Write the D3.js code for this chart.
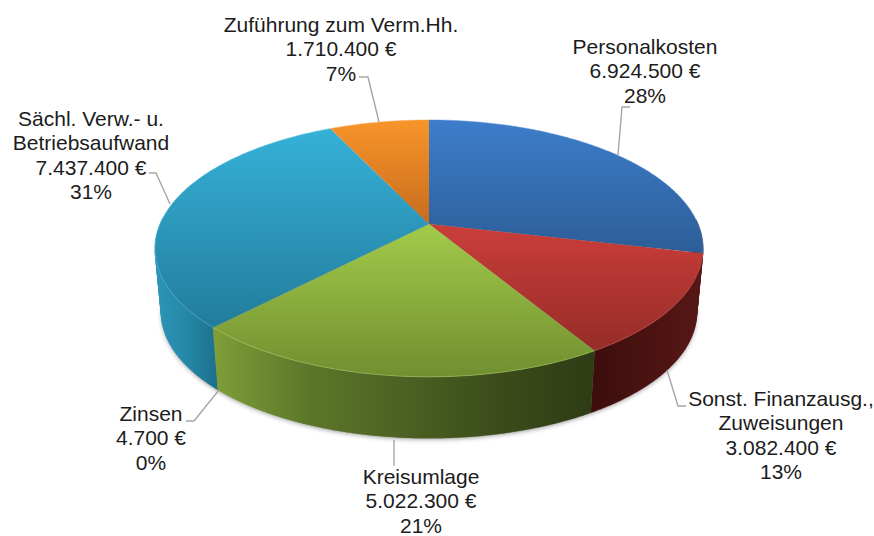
<!DOCTYPE html>
<html><head><meta charset="utf-8">
<script src="https://cdn.jsdelivr.net/npm/d3@7"></script>
<style>html,body{margin:0;padding:0;background:#fff}svg{display:block}</style>
</head><body><svg id="c" width="874" height="536"></svg>
<script>
// ---- data ----
const categories = [["Personalkosten"],["Sonst. Finanzausg.,","Zuweisungen"],["Kreisumlage"],["Zinsen"],["Sächl. Verw.- u.","Betriebsaufwand"],["Zuführung zum Verm.Hh."]];
const euroValues = [6924500,3082400,5022300,4700,7437400,1710400];
const percentLabels = [28,13,21,0,31,7];
// ---- styles ----
const topLight  = ["#3d7dca","#cb3e3a","#a2cb4a","#9fc74a","#36b1d8","#f9942a"];
const topDark   = ["#2c5d97","#962c28","#718f30","#718f30","#227c9b","#c66c1c"];
const sideStops = [
 ["#3c0e0c","#4a1210"],
 ["#3c0e0c","#4a1210","#571816"],
 ["#7f9e38","#5c772a","#4c6122","#3b4c1a","#2e3c14"],
 ["#7f9e38","#7f9e38"],
 ["#2d95b7","#2588a8","#1c6f8b"],
 ["#c66c1c","#c66c1c"]
];
const edgeLight = ["#5a92d6","#d95f5b","#b6d86c","#b6d86c","#5cc4e4","#fbb060"];
// ---- label layout: centre x, first-line centre y, leader polyline ----
const labelX = [645,781,421,151,91,341];
const labelY = [47,399,477,414,119,25];
const leaders = [
 [[618,155],[622,107],[630,107]],
 [[667,370],[678,406],[686,406]],
 [[394,440],[394,466]],
 [[219,390],[194,421],[186,421]],
 [[170,204],[156,173],[149,173]],
 [[379,122],[368,77],[359,77]]
];
// ---- geometry ----
const cx=429, apexY=224, c=269, a=123.8, b=0.19, k=0.977, depth=65;
const px=(t,s)=>cx+s*c*Math.sin(t)/(1+b*Math.cos(t));
const py=(t,s)=>apexY+(s<1?depth:0)-s*a*Math.cos(t)/(1+b*Math.cos(t));
const svg=d3.select("#c");
const defs=svg.append("defs");
const arcs=d3.pie().sort(null).value(d=>d)(euroValues);
const line=d3.line();
const samples=(s,e)=>{const n=Math.max(2,Math.ceil((e-s)/0.01));return d3.range(n+1).map(i=>s+(e-s)*i/n);};

defs.append("filter").attr("id","sh").attr("x","-10%").attr("y","-10%").attr("width","120%").attr("height","120%")
 .append("feGaussianBlur").attr("stdDeviation",2.2);

arcs.forEach((d,i)=>{
  const g1=defs.append("linearGradient").attr("id","top"+i).attr("x1",0).attr("y1",0).attr("x2",0).attr("y2",1);
  g1.append("stop").attr("offset",0).attr("stop-color",topLight[i]);
  g1.append("stop").attr("offset",1).attr("stop-color",topDark[i]);
  const g2=defs.append("linearGradient").attr("id","side"+i).attr("x1",0).attr("y1",0).attr("x2",1).attr("y2",0);
  sideStops[i].forEach((col,j,arr)=>g2.append("stop").attr("offset",j/(arr.length-1)).attr("stop-color",col));
});

// shadow under the base
const full=samples(0,2*Math.PI);
svg.append("path").attr("d",line(full.map(t=>[px(t,k),py(t,k)+1.5]))+"Z")
  .attr("fill","#555").attr("opacity",0.5).attr("filter","url(#sh)");

// side walls: union of small consistently-oriented quads on the front-facing part only
const wall=(d)=>{
  const ts=samples(d.startAngle,d.endAngle);
  let out="";
  for(let j=0;j<ts.length-1;j++){
    if(Math.cos(ts[j])>0.05) continue;
    let q=[[px(ts[j],1),py(ts[j],1)],[px(ts[j+1],1),py(ts[j+1],1)],[px(ts[j+1],k),py(ts[j+1],k)],[px(ts[j],k),py(ts[j],k)]];
    if(d3.polygonArea(q)<0) q=q.reverse();
    out+=line(q)+"Z";
  }
  return out;
};
const order=[5,0,1,4,3,2];
const sg=svg.append("g");
order.forEach(i=>{
  const dPath=wall(arcs[i]);
  if(dPath) sg.append("path").attr("d",dPath).attr("fill",`url(#side${i})`).attr("stroke",`url(#side${i})`).attr("stroke-width",0.3);
});

// top faces
const tg=svg.append("g");
arcs.forEach((d,i)=>{
  const ts=samples(d.startAngle,d.endAngle);
  const pts=[[cx,apexY]].concat(ts.map(t=>[px(t,1),py(t,1)]));
  tg.append("path").attr("d",line(pts)+"Z").attr("fill",`url(#top${i})`);
  tg.append("path").attr("d",line(ts.map(t=>[px(t,1),py(t,1)]))).attr("fill","none")
    .attr("stroke",edgeLight[i]).attr("stroke-width",1).attr("opacity",d.endAngle>Math.PI/2?0.5:0);
});

// leader lines
svg.append("g").selectAll("path").data(leaders).join("path")
  .attr("d",d=>line(d)).attr("fill","none").attr("stroke","#a6a6a6").attr("stroke-width",1.4);

// labels
const de=d3.formatLocale({decimal:",",thousands:".",grouping:[3],currency:["",""]});
const fmt=de.format(",");
const lg=svg.append("g").attr("font-family","'Liberation Sans',Arial,sans-serif").attr("font-size",21).attr("fill","#1c1c1c").attr("text-anchor","middle");
categories.forEach((cat,i)=>{
  const lines=cat.concat([fmt(euroValues[i])+" €",percentLabels[i]+"%"]);
  lines.forEach((s,j)=>{
    lg.append("text").attr("x",labelX[i]).attr("y",labelY[i]+j*24.1).attr("dy","0.35em").text(s);
  });
});
</script></body></html>
